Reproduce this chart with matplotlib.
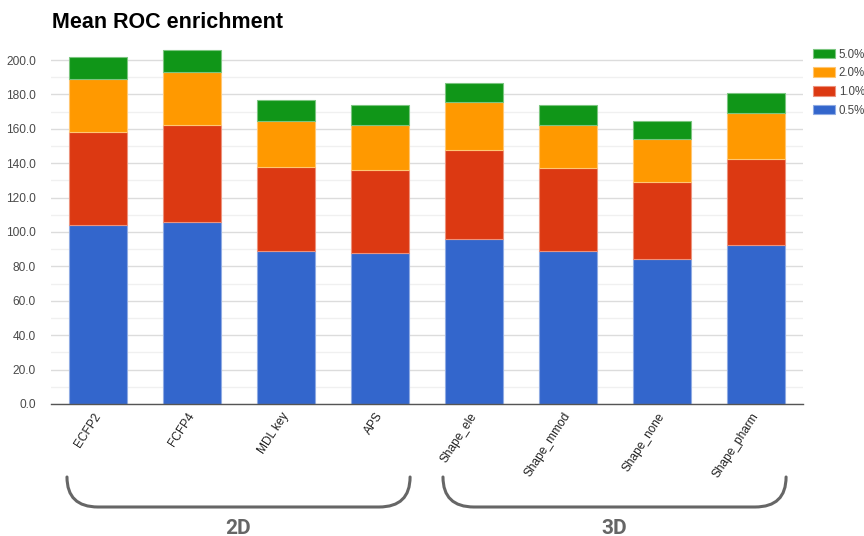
import matplotlib
matplotlib.use("Agg")
import matplotlib.pyplot as plt
from matplotlib.path import Path
from matplotlib.patches import PathPatch, Patch
from matplotlib.transforms import blended_transform_factory
import matplotlib.colors as mcolors
import numpy as np

methods = ["ECFP2", "FCFP4", "MDL key", "APS",
           "Shape_ele", "Shape_mmod", "Shape_none", "Shape_pharm"]
series_names = ["0.5%", "1.0%", "2.0%", "5.0%"]
enrich_05 = [104.1, 105.8, 89.1, 87.6, 95.9, 89.1, 84.3, 92.4]
enrich_10 = [54.0, 56.6, 48.5, 48.4, 51.8, 47.9, 44.6, 50.0]
enrich_20 = [30.7, 30.4, 26.8, 26.2, 27.7, 25.2, 25.2, 26.6]
enrich_50 = [13.1, 13.0, 12.3, 11.8, 11.4, 11.4, 10.4, 11.6]
series_colors = ["#3366cc", "#dc3912", "#ff9900", "#109618"]
groups = [("2D", 0, 3), ("3D", 4, 7)]
y_ticks = [0, 20, 40, 60, 80, 100, 120, 140, 160, 180, 200]


def light(col):
    return tuple(0.55 * c + 0.45 for c in mcolors.to_rgb(col))


W, H = 864, 536
fig = plt.figure(figsize=(W / 100, H / 100), dpi=100)
ax = fig.add_axes([51 / W, (H - 404) / H, (803 - 51) / W, (404 - 42.8) / H])

x = np.arange(len(methods))
width = 0.62
bottom = np.zeros(len(methods))
for vals, col in zip([enrich_05, enrich_10, enrich_20, enrich_50], series_colors):
    ax.bar(x, vals, width, bottom=bottom, color=col, edgecolor=light(col),
           linewidth=0.8, zorder=3)
    bottom += np.array(vals)

ax.set_xlim(-0.5, len(methods) - 0.5)
ax.set_ylim(0, 210)
ax.set_yticks(y_ticks)
ax.set_yticklabels([f"{v:.1f}" for v in y_ticks], fontsize=8.6,
                   color="#4a4a4a", family="Liberation Sans")
ax.set_yticks(np.arange(10, 200, 20), minor=True)
ax.grid(axis="y", which="major", color="#dcdcdc", linewidth=1.0, zorder=0)
ax.grid(axis="y", which="minor", color="#f0f0f0", linewidth=1.0, zorder=0)
ax.tick_params(axis="y", which="both", length=0, pad=11)
ax.tick_params(axis="x", length=0, pad=7)
for s in ["top", "right", "left"]:
    ax.spines[s].set_visible(False)
ax.spines["bottom"].set_color("#555555")
ax.spines["bottom"].set_linewidth(1.0)
ax.spines["bottom"].set_zorder(4)

ax.set_xticks(x)
ax.set_xticklabels(methods, rotation=57, ha="right", va="center",
                   rotation_mode="anchor", fontsize=8.6, color="#222222",
                   family="Liberation Sans")

fig.text(52 / W, 1 - 23 / H, "Mean ROC enrichment", fontsize=15.5,
         fontweight="bold", family="Liberation Sans", color="#000000",
         va="center", ha="left")

# legend (top series first)
handles = [Patch(facecolor=c, edgecolor=light(c), linewidth=0.8)
           for c in series_colors][::-1]
fig.legend(handles, series_names[::-1], loc="upper left",
           bbox_to_anchor=(813 / W, 1 - 48.5 / H), frameon=False,
           prop={"family": "Liberation Sans", "size": 8.3},
           labelcolor="#444444", handlelength=1.95, handleheight=0.88,
           handletextpad=0.28, labelspacing=0.58, borderpad=0, borderaxespad=0)

# group brackets under the category labels
trans = blended_transform_factory(ax.transData, ax.transAxes)
px = 1 / (404 - 42.8)
y_top = -(477 - 404) * px
y_bot = -(507 - 404) * px
r = 0.33
for name, i0, i1 in groups:
    x0 = i0 - width / 2 - 0.02
    x1 = i1 + width / 2 + 0.01
    verts = [(x0, y_top), (x0, y_bot), (x0 + r, y_bot),
             (x1 - r, y_bot), (x1, y_bot), (x1, y_top)]
    codes = [Path.MOVETO, Path.CURVE3, Path.CURVE3,
             Path.LINETO, Path.CURVE3, Path.CURVE3]
    ax.add_patch(PathPatch(Path(verts, codes), transform=trans, fill=False,
                           edgecolor="#666666", linewidth=2.2,
                           clip_on=False, capstyle="round"))
    ax.text((x0 + x1) / 2, -(528 - 404) * px, name, transform=trans,
            ha="center", va="center", fontsize=15, fontweight="bold",
            color="#666666", family="Roboto")

fig.savefig("out.png", dpi=100)
